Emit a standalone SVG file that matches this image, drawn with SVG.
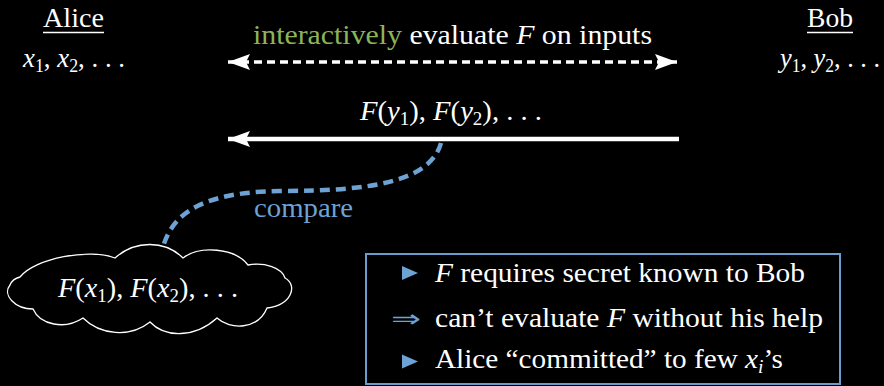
<svg xmlns="http://www.w3.org/2000/svg" width="884" height="386" viewBox="0 0 884 386">
<defs>
<style>
text{font-family:'Liberation Serif','DejaVu Serif',serif;fill:#ffffff;font-size:27px}
.it{font-style:italic}
.sub{font-size:18px}
.green{fill:#8db35a}
.blue{fill:#6da2d4}
.ul{stroke:#ffffff;stroke-width:1.5}
</style>
<marker id="ah" viewBox="0 0 22 16" markerWidth="22" markerHeight="16" refX="22" refY="8" orient="auto-start-reverse" markerUnits="userSpaceOnUse">
<path d="M0,0 L22,8 L0,16 L4,8 Z" fill="#ffffff"/>
</marker>
</defs>
<rect width="884" height="386" fill="#000000"/>

<g id="alice">
<text x="43" y="27" textLength="61" lengthAdjust="spacingAndGlyphs">Alice</text>
<line class="ul" x1="43" y1="32.5" x2="104" y2="32.5"/>
<text x="23" y="67" textLength="102" lengthAdjust="spacingAndGlyphs"><tspan class="it">x</tspan><tspan class="sub" dy="5">1</tspan><tspan dy="-5">, </tspan><tspan class="it">x</tspan><tspan class="sub" dy="5">2</tspan><tspan dy="-5">, . . .</tspan></text>
</g>

<g id="bob">
<text x="807" y="27" textLength="46" lengthAdjust="spacingAndGlyphs">Bob</text>
<line class="ul" x1="807" y1="32.5" x2="853" y2="32.5"/>
<text x="780" y="67" textLength="100" lengthAdjust="spacingAndGlyphs"><tspan class="it">y</tspan><tspan class="sub" dy="5">1</tspan><tspan dy="-5">, </tspan><tspan class="it">y</tspan><tspan class="sub" dy="5">2</tspan><tspan dy="-5">, . . .</tspan></text>
</g>

<g id="connectors">
<line x1="228" y1="62" x2="677" y2="62" stroke="#ffffff" stroke-width="3.5" stroke-dasharray="8,5" marker-start="url(#ah)" marker-end="url(#ah)"/>
<line x1="679" y1="139" x2="228" y2="139" stroke="#ffffff" stroke-width="4.5" marker-end="url(#ah)"/>
<path d="M441,143 C430,182 370,191 280,191 C200,192 172,215 163,247" fill="none" stroke="#6da2d4" stroke-width="4.5" stroke-dasharray="10,6"/>
</g>

<g id="labels">
<text x="253" y="44" textLength="399" lengthAdjust="spacingAndGlyphs"><tspan class="green">interactively</tspan> evaluate <tspan class="it">F</tspan> on inputs</text>
<text x="360" y="120" textLength="182" lengthAdjust="spacingAndGlyphs"><tspan class="it">F</tspan>(<tspan class="it">y</tspan><tspan class="sub" dy="5">1</tspan><tspan dy="-5">), </tspan><tspan class="it">F</tspan>(<tspan class="it">y</tspan><tspan class="sub" dy="5">2</tspan><tspan dy="-5">), . . .</tspan></text>
<text class="blue" x="254" y="217" textLength="99" lengthAdjust="spacingAndGlyphs">compare</text>
</g>

<g id="cloud">
<path d="M33,309 C15,309 2,295 10,285 C12,280 16,278 20,277 C35,258 90,248 115,258 C135,240 165,240 183,258 C200,245 235,248 248,265 C265,262 282,268 285,278 C298,285 292,305 267,308 C258,330 230,330 217,318 C195,338 165,338 150,322 C130,338 100,335 83,318 C65,330 40,325 33,309 Z" fill="#000000" stroke="#ffffff" stroke-width="1.3"/>
<text x="58" y="297" textLength="180" lengthAdjust="spacingAndGlyphs"><tspan class="it">F</tspan>(<tspan class="it">x</tspan><tspan class="sub" dy="5">1</tspan><tspan dy="-5">), </tspan><tspan class="it">F</tspan>(<tspan class="it">x</tspan><tspan class="sub" dy="5">2</tspan><tspan dy="-5">), . . .</tspan></text>
</g>

<g id="box">
<rect x="366" y="254" width="474" height="130" fill="#000000" stroke="#6a9ccd" stroke-width="2"/>
<path d="M402,266 L418,273 L402,280 Z" fill="#6da2d4"/>
<text x="435" y="282" textLength="370" lengthAdjust="spacingAndGlyphs"><tspan class="it">F</tspan> requires secret known to Bob</text>
<text class="blue" x="391" y="327" style="font-family:'DejaVu Sans',sans-serif;font-size:24px" textLength="30" lengthAdjust="spacingAndGlyphs">⇒</text>
<text x="435" y="327" textLength="388" lengthAdjust="spacingAndGlyphs">can’t evaluate <tspan class="it">F</tspan> without his help</text>
<path d="M402,354.5 L418,361.5 L402,368.5 Z" fill="#6da2d4"/>
<text x="435" y="368" textLength="348" lengthAdjust="spacingAndGlyphs">Alice “committed” to few <tspan class="it">x</tspan><tspan class="it sub" dy="5">i</tspan><tspan dy="-5">’s</tspan></text>
</g>
</svg>
